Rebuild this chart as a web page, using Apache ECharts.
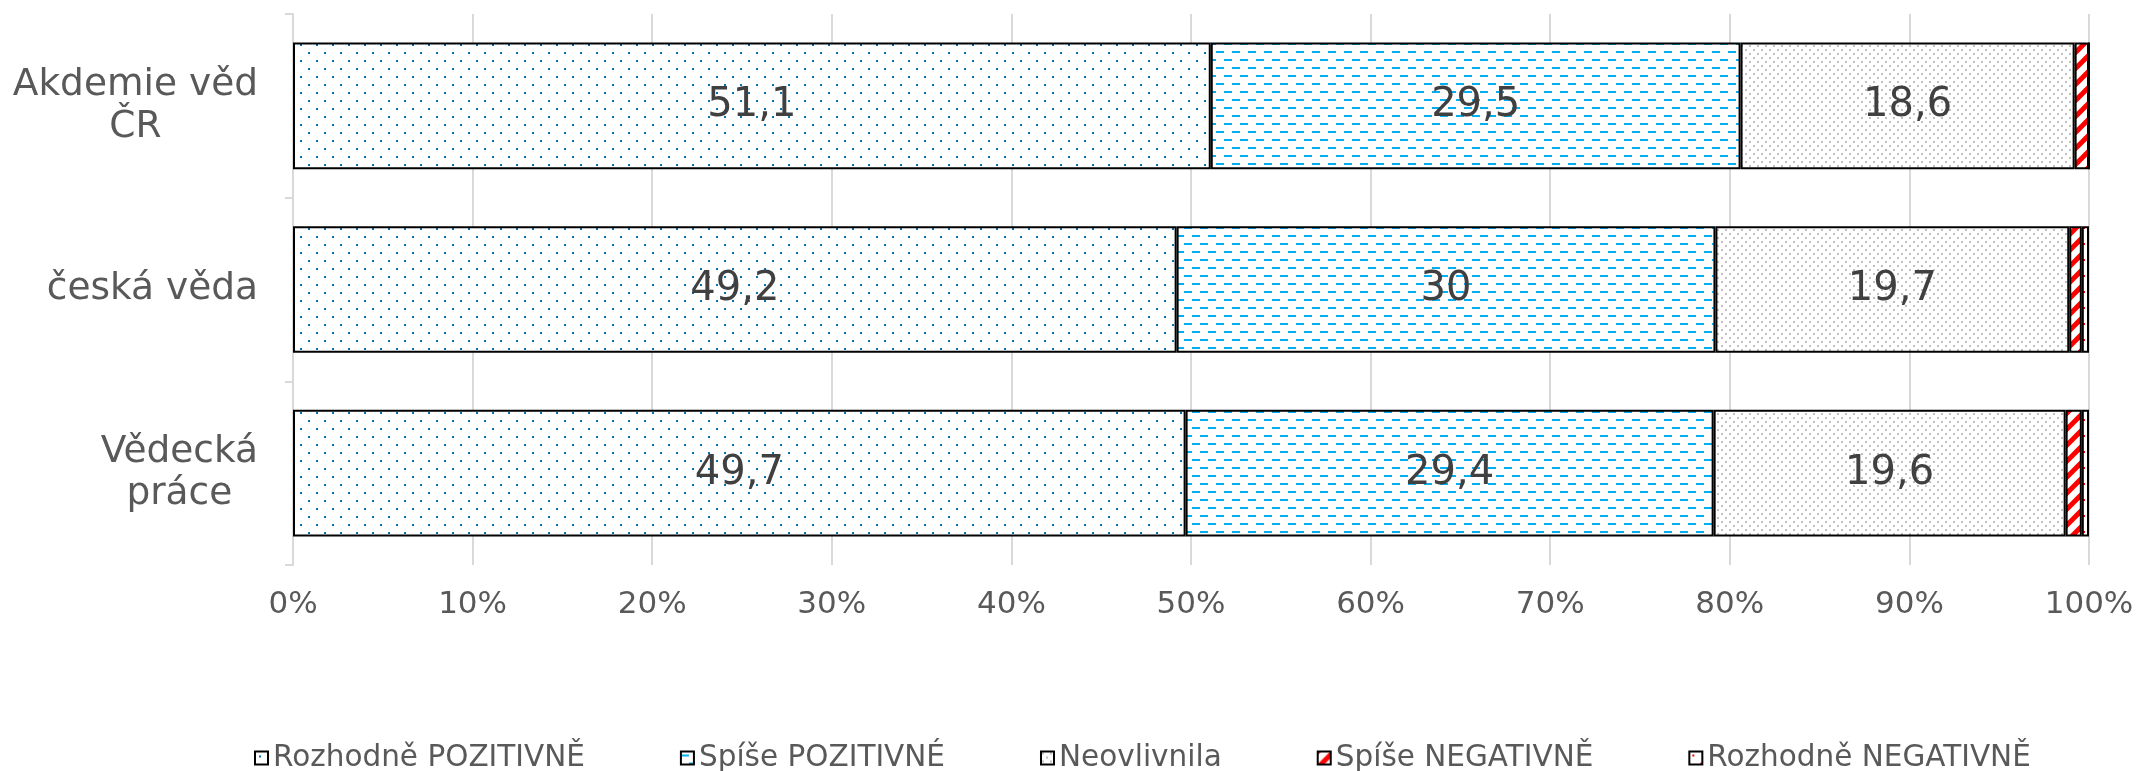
<!DOCTYPE html>
<html>
<head>
<meta charset="utf-8">
<title>Vliv na vnímání</title>
<script src="https://cdn.jsdelivr.net/npm/echarts@6/dist/echarts.min.js"></script>
<style>
    body { margin: 0; background: #fff; }
    #chart { width: 2138px; height: 771px; }
</style>
</head>
<body>
<div id="chart"></div>
<script>
const categories = ['Akdemie věd\nČR', 'česká věda', 'Vědecká\npráce'];
const seriesNames = ['Rozhodně POZITIVNĚ', 'Spíše POZITIVNÉ', 'Neovlivnila', 'Spíše NEGATIVNĚ', 'Rozhodně NEGATIVNĚ'];
const rozhodnePozitivne = [51.1, 49.2, 49.7];
const spisePozitivne = [29.5, 30, 29.4];
const neovlivnila = [18.6, 19.7, 19.6];
const spiseNegativne = [0.8, 0.7, 0.9];
const rozhodneNegativne = [0, 0.4, 0.4];
const xTicks = [0, 10, 20, 30, 40, 50, 60, 70, 80, 90, 100];

const FONT = 'DejaVu Sans';

// small canvas tiles used as fill patterns
function tile(w, h, draw) {
    let c = document.createElement('canvas');
    c.width = w;
    c.height = h;
    let ctx = c.getContext('2d');
    ctx.fillStyle = '#fff';
    ctx.fillRect(0, 0, w, h);
    draw(ctx);
    return { image: c, repeat: 'repeat' };
}

const blueDots = tile(16, 16, ctx => {
    ctx.fillStyle = '#0070C0';
    ctx.fillRect(4, 4, 2, 2);
    ctx.fillRect(12, 12, 2, 2);
});

const blueDashes = tile(16, 16, ctx => {
    ctx.fillStyle = '#00B0F0';
    ctx.fillRect(0, 3, 8, 2);
    ctx.fillRect(8, 11, 8, 2);
});

const greyDots = tile(8, 8, ctx => {
    ctx.fillStyle = '#BFBFBF';
    ctx.fillRect(1, 1, 2, 2);
    ctx.fillRect(5, 5, 2, 2);
});

const redStripes = tile(16, 16, ctx => {
    ctx.strokeStyle = '#FF0000';
    ctx.lineWidth = 5;
    for (let k = -16; k <= 32; k += 16) {
        ctx.beginPath();
        ctx.moveTo(k - 2, 18);
        ctx.lineTo(k + 18, -2);
        ctx.stroke();
    }
});

const redDots = tile(16, 16, ctx => {
    ctx.fillStyle = '#FF0000';
    ctx.fillRect(3, 3, 2, 2);
    ctx.fillRect(11, 11, 2, 2);
});

function fmt(p) {
    return String(p.value).replace('.', ',');
}

function bar(name, data, fill, showLabel) {
    return {
        name: name,
        type: 'bar',
        stack: 'total',
        barCategoryGap: '31%',
        data: data,
        itemStyle: { color: fill, borderColor: '#000', borderWidth: 2 },
        label: {
            show: showLabel,
            position: 'inside',
            formatter: fmt,
            fontFamily: FONT,
            fontSize: 40,
            color: '#404040'
        },
        emphasis: { disabled: true }
    };
}

let myChart = echarts.init(document.getElementById('chart'));
let option = {
    animation: false,
    backgroundColor: '#fff',
    textStyle: { fontFamily: FONT },
    grid: { left: 293, right: 49, top: 14, bottom: 206 },
    legend: {
        data: seriesNames,
        left: 254,
        top: 743,
        padding: 0,
        itemGap: 95,
        itemWidth: 13,
        itemHeight: 13,
        icon: 'rect',
        itemStyle: { borderColor: '#000', borderWidth: 2 },
        textStyle: { fontFamily: FONT, fontSize: 29.5, color: '#595959' }
    },
    xAxis: {
        type: 'value',
        min: xTicks[0],
        max: xTicks[xTicks.length - 1],
        interval: 10,
        axisLine: { show: false },
        axisTick: { show: false },
        splitLine: { lineStyle: { color: '#D9D9D9', width: 2 } },
        axisLabel: {
            formatter: '{value}%',
            fontFamily: FONT,
            fontSize: 31,
            color: '#595959',
            margin: 24
        }
    },
    yAxis: {
        type: 'category',
        data: categories,
        inverse: true,
        axisLine: { lineStyle: { color: '#D9D9D9', width: 2 } },
        axisTick: { show: true, length: 8, lineStyle: { color: '#D9D9D9', width: 2 } },
        axisLabel: {
            margin: 35,
            formatter: v => v.split('\n').map(s => '{a|' + s + '}').join('\n'),
            rich: {
                a: { align: 'center', fontFamily: FONT, fontSize: 37.5, lineHeight: 42, color: '#595959' }
            }
        }
    },
    series: [
        bar(seriesNames[0], rozhodnePozitivne, blueDots, true),
        bar(seriesNames[1], spisePozitivne, blueDashes, true),
        bar(seriesNames[2], neovlivnila, greyDots, true),
        bar(seriesNames[3], spiseNegativne, redStripes, false),
        bar(seriesNames[4], rozhodneNegativne, redDots, false)
    ]
};

myChart.setOption(option);
</script>
</body>
</html>
